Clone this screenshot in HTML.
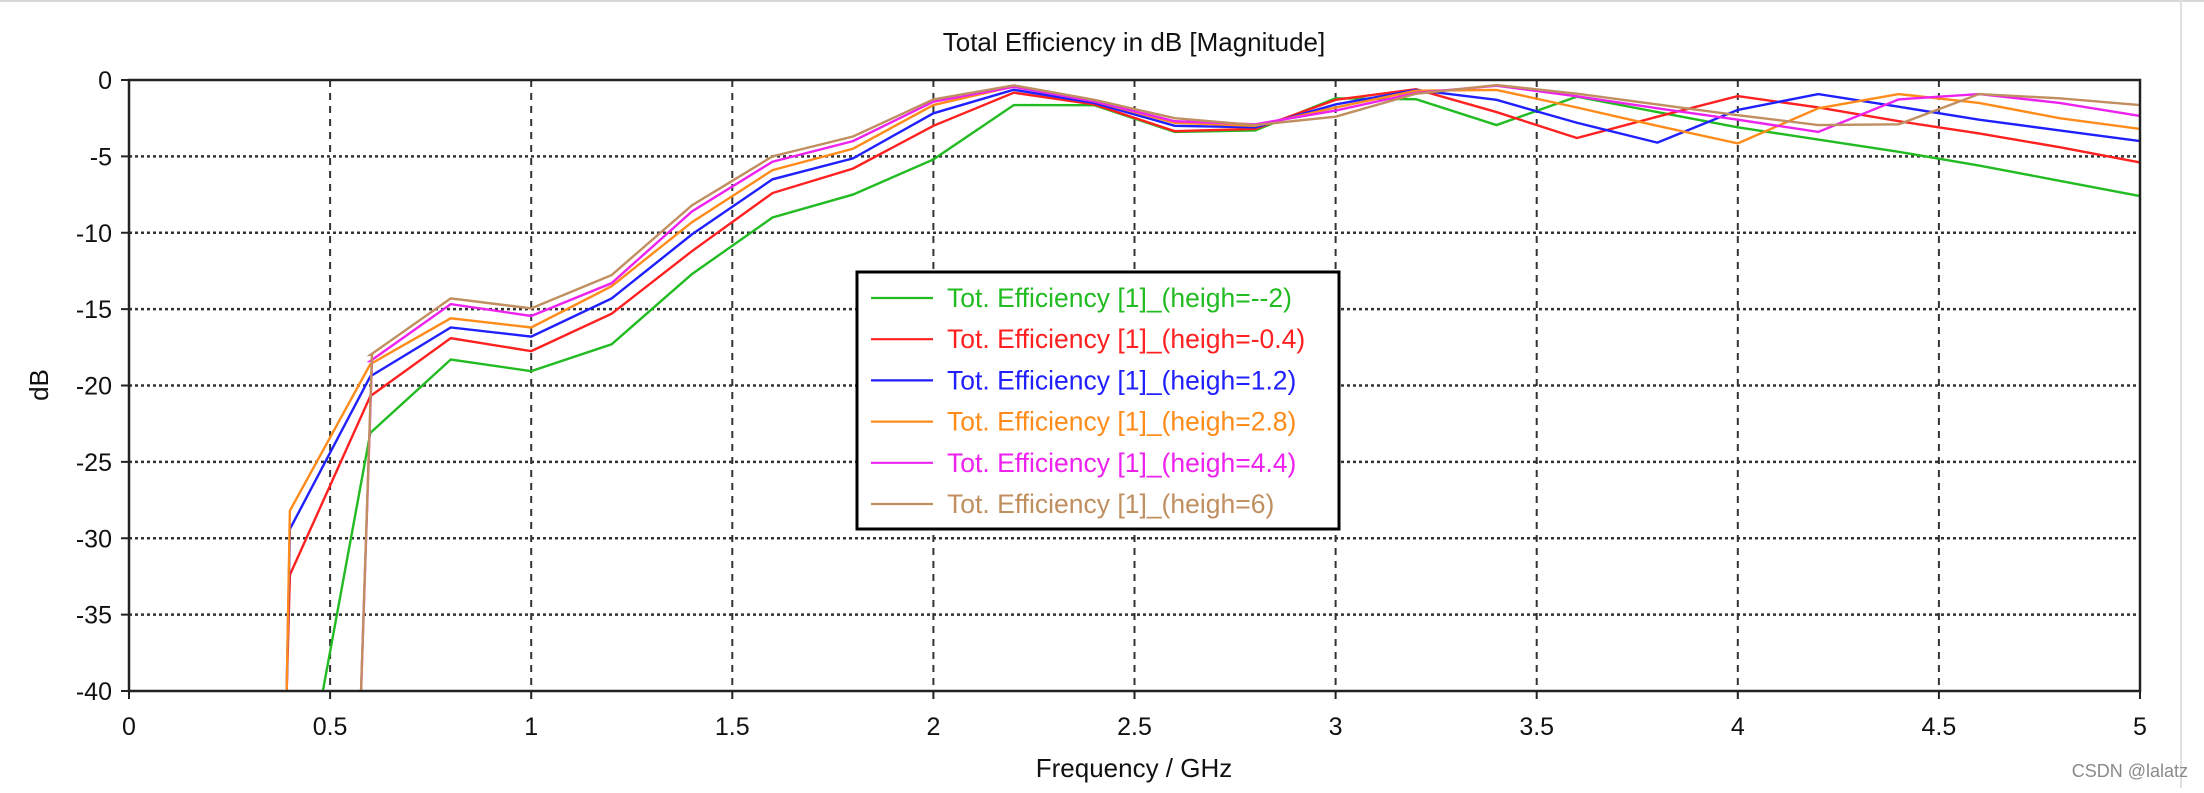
<!DOCTYPE html>
<html><head><meta charset="utf-8">
<style>
html,body{margin:0;padding:0;background:#fff;}
body{width:2204px;height:788px;overflow:hidden;position:relative;}
svg text{font-family:"Liberation Sans",sans-serif;}
</style></head>
<body>
<svg id="chart" width="2204" height="788" viewBox="0 0 2204 788" xmlns="http://www.w3.org/2000/svg">
<rect x="0" y="0" width="2204" height="2" fill="#d8d8d8"/>
<rect x="2180" y="0" width="2" height="788" fill="#e0e0e0"/>
<text x="1134" y="51" font-size="26" text-anchor="middle" fill="#111">Total Efficiency in dB [Magnitude]</text>
<text x="1134" y="777" font-size="26" text-anchor="middle" fill="#111">Frequency / GHz</text>
<text x="0" y="0" font-size="26" text-anchor="middle" fill="#111" transform="translate(48,385) rotate(-90)">dB</text>
<g id="grid"></g>
<g id="series"></g>
<g id="axes"></g>
<g id="legend"></g>
<text x="2188" y="777" font-size="18" text-anchor="end" fill="#8a8a8a">CSDN @lalatz</text>
</svg>
<script>
const xTicks = [0,0.5,1,1.5,2,2.5,3,3.5,4,4.5,5];
const xTickLabels = ["0","0.5","1","1.5","2","2.5","3","3.5","4","4.5","5"];
const yTicks = [0,-5,-10,-15,-20,-25,-30,-35,-40];
const yTickLabels = ["0","-5","-10","-15","-20","-25","-30","-35","-40"];
const seriesNames = ["Tot. Efficiency [1]_(heigh=--2)","Tot. Efficiency [1]_(heigh=-0.4)","Tot. Efficiency [1]_(heigh=1.2)","Tot. Efficiency [1]_(heigh=2.8)","Tot. Efficiency [1]_(heigh=4.4)","Tot. Efficiency [1]_(heigh=6)"];
const seriesColors = ["#22bb22","#ff2020","#2020ff","#ff8c1a","#ee22ee","#c08f60"];
const freqMain = [0.6,0.8,1.0,1.2,1.4,1.6,1.8,2.0,2.2,2.4,2.6,2.8,3.0,3.2,3.4,3.6,3.8,4.0,4.2,4.4,4.6,4.8,5.0];
const greenStartF = [0.482];
const greenStartV = [-40];
const greenV = [-23.1,-18.3,-19.06,-17.3,-12.7,-9.0,-7.5,-5.2,-1.64,-1.65,-3.4,-3.3,-1.2,-1.26,-2.95,-1.09,-2.1,-3.1,-3.9,-4.7,-5.6,-6.6,-7.6];
const redStartF = [0.392,0.4];
const redStartV = [-40,-32.4];
const redV = [-20.7,-16.9,-17.75,-15.3,-11.2,-7.4,-5.8,-3.0,-0.83,-1.6,-3.35,-3.2,-1.3,-0.6,-2.1,-3.8,-2.4,-1.05,-1.8,-2.7,-3.5,-4.4,-5.4];
const blueStartF = [0.392,0.4];
const blueStartV = [-40,-29.4];
const blueV = [-19.4,-16.2,-16.8,-14.3,-10.1,-6.5,-5.13,-2.18,-0.64,-1.5,-3.0,-3.1,-1.6,-0.65,-1.3,-2.8,-4.1,-1.96,-0.92,-1.75,-2.6,-3.3,-4.0];
const orangeStartF = [0.392,0.4];
const orangeStartV = [-40,-28.2];
const orangeV = [-18.6,-15.6,-16.2,-13.5,-9.3,-5.9,-4.5,-1.64,-0.42,-1.4,-2.8,-3.0,-1.8,-0.7,-0.65,-1.8,-3.0,-4.15,-1.85,-0.92,-1.5,-2.5,-3.2];
const magentaStartF = [0.577,0.604];
const magentaStartV = [-40,-18.4];
const magentaV = [-18.4,-14.67,-15.45,-13.3,-8.6,-5.35,-4.0,-1.42,-0.45,-1.4,-2.7,-2.9,-2.0,-0.85,-0.37,-1.07,-1.85,-2.6,-3.4,-1.27,-0.92,-1.5,-2.35];
const brownStartF = [0.577,0.604];
const brownStartV = [-40,-18.0];
const brownV = [-18.0,-14.3,-14.95,-12.77,-8.2,-5.0,-3.7,-1.27,-0.35,-1.3,-2.5,-2.95,-2.4,-0.9,-0.33,-0.9,-1.6,-2.3,-2.95,-2.9,-0.92,-1.2,-1.64];

const X0=129, X1=2140, Y0=80, Y1=691;
const xs = f => X0 + (f-0)/(5-0)*(X1-X0);
const ys = v => Y0 + (0-v)/(0-(-40))*(Y1-Y0);
const NS="http://www.w3.org/2000/svg";
function mk(tag, attrs, parent){const e=document.createElementNS(NS,tag);for(const k in attrs)e.setAttribute(k,attrs[k]);parent.appendChild(e);return e;}
const grid=document.getElementById('grid'), axes=document.getElementById('axes'), ser=document.getElementById('series'), leg=document.getElementById('legend');

xTicks.forEach((t,i)=>{
  const x=xs(t);
  if(i>0 && i<xTicks.length-1){
    const l=mk('line',{x1:x,y1:Y0,x2:x,y2:Y1,stroke:'#333','stroke-width':2,'stroke-dasharray':'7,6'},grid);
    
    
  }
  const tk=mk('line',{x1:x,y1:Y1,x2:x,y2:Y1+8,stroke:'#222','stroke-width':2},axes);
  
  
  const tx=mk('text',{x:x,y:735,'font-size':25,'text-anchor':'middle',fill:'#111'},axes);
  tx.textContent=xTickLabels[i];
  
  
});
yTicks.forEach((t,i)=>{
  const y=ys(t);
  if(i>0 && i<yTicks.length-1){
    const l=mk('line',{x1:X0,y1:y,x2:X1,y2:y,stroke:'#333','stroke-width':2.5,'stroke-dasharray':'3,3'},grid);
    
    
  }
  const tk=mk('line',{x1:X0-8,y1:y,x2:X0,y2:y,stroke:'#222','stroke-width':2},axes);
  
  
  const tx=mk('text',{x:112,y:y+9,'font-size':25,'text-anchor':'end',fill:'#111'},axes);
  tx.textContent=yTickLabels[i];
  
  
});
const frame=mk('rect',{x:X0,y:Y0,width:X1-X0,height:Y1-Y0,fill:'none',stroke:'#222','stroke-width':2.5},axes);



const allSeries=[[greenStartF,greenStartV,greenV],[redStartF,redStartV,redV],[blueStartF,blueStartV,blueV],[orangeStartF,orangeStartV,orangeV],[magentaStartF,magentaStartV,magentaV],[brownStartF,brownStartV,brownV]];
const sNames=['series-green-heigh-m2','series-red-heigh-m0.4','series-blue-heigh-1.2','series-orange-heigh-2.8','series-magenta-heigh-4.4','series-brown-heigh-6'];
allSeries.forEach((s,i)=>{
  const pts=[];
  s[0].forEach((f,j)=>pts.push(xs(f)+','+ys(s[1][j])));
  freqMain.forEach((f,j)=>pts.push(xs(f)+','+ys(s[2][j])));
  const p=mk('polyline',{points:pts.join(' '),fill:'none',stroke:seriesColors[i],'stroke-width':2.4,'stroke-linejoin':'miter'},ser);
  
  
});

const box=mk('rect',{x:857,y:272,width:482,height:257,fill:'#fff',stroke:'#000','stroke-width':3},leg);


seriesNames.forEach((n,i)=>{
  const y=298+i*41.2;
  const g=mk('g',{},leg);
  
  
  mk('line',{x1:871,y1:y,x2:933,y2:y,stroke:seriesColors[i],'stroke-width':2.2},g);
  const t=mk('text',{x:947,y:y+9,'font-size':26.5,fill:seriesColors[i]},g);
  t.textContent=n;
});
</script>
</body></html>
